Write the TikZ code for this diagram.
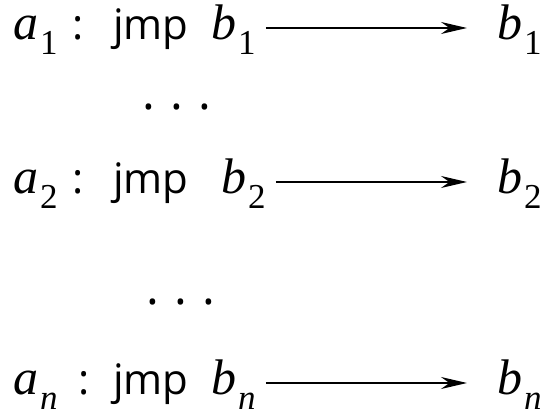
\documentclass[tikz,border=0pt]{standalone}
\usepackage{fontspec}
\setmainfont{Liberation Serif}
\newfontfamily\insfont{Open Sans}
\usetikzlibrary{arrows.meta}

% italic letter with a lowered index
\newcommand\symsub[2]{\textit{#1}\kern2pt\raisebox{-15pt}{\fontsize{35}{35}\selectfont #2}}

\begin{document}
\begin{tikzpicture}[
  x=1pt, y=1pt,
  sym/.style={font=\fontsize{50}{56}\selectfont, inner sep=0pt,
              text height=34pt, text depth=10pt, anchor=base west},
  ins/.style={font=\insfont\fontsize{42}{48}\selectfont, inner sep=0pt, anchor=base west},
  dots/.style={font=\insfont\fontsize{48}{52}\selectfont, inner sep=0pt, anchor=base},
  arr/.style={-{Stealth[length=26pt, width=12pt]}, line width=1.5pt,
              shorten <=10pt, shorten >=30pt}
]
\useasboundingbox (0,0) rectangle (546,417);
\foreach \k/\s/\y/\xc/\xb in {1/1/377/72/211, 2/2/223/72/221, 3/\textit{n}/22/78/211} {
  \node[sym] (lbl\k) at (13,\y) {\symsub{a}{\s}};
  \node[ins] (col\k) at (\xc,\y) {:};
  \node[ins] (ins\k) at (113,\y) {jmp};
  \node[sym] (src\k) at (\xb,\y) {\symsub{b}{\s}};
  \node[sym] (dst\k) at (497,\y) {\symsub{b}{\s}};
  \draw[arr] (src\k) -- (dst\k);
}
\node[dots] (gap1) at (177,307) {.\kern15pt.\kern15pt.};
\node[dots] (gap2) at (181,112) {.\kern15pt.\kern15pt.};
\end{tikzpicture}
\end{document}
